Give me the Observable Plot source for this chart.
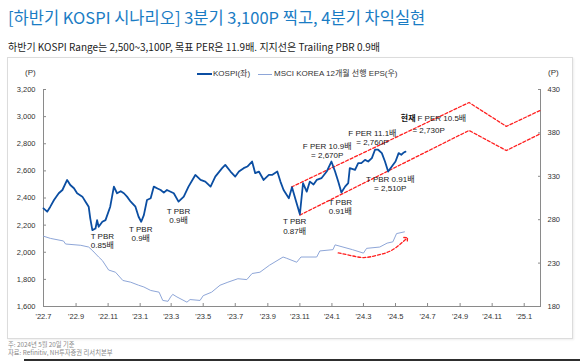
<!DOCTYPE html>
<html><head><meta charset="utf-8">
<script src="https://cdn.jsdelivr.net/npm/d3@7"></script>
<script src="https://cdn.jsdelivr.net/npm/@observablehq/plot@0.6"></script>
<style>
html,body{margin:0;padding:0;}
body{width:580px;height:361px;position:relative;overflow:hidden;background:#fff;font-family:'Noto Sans CJK KR','Noto Sans',sans-serif;}
.abs{position:absolute;white-space:nowrap;line-height:1;}
#title{left:8px;top:8.5px;font-size:16.5px;color:#1a7cc4;}
#sub{left:8px;top:42px;font-size:10px;color:#222;}
#frame{left:7px;top:57px;width:566px;height:282px;border:1px solid #dcdcdc;box-sizing:border-box;box-shadow:1px 1px 2px #eee;}
.nf{font-family:'Liberation Sans Narrow','Liberation Sans',Arial,'Noto Sans CJK KR',sans-serif;font-size:8px;color:#333;}
#chart{position:absolute;left:0;top:60px;}
.fn{font-size:6.3px;color:#888;left:8px;}
</style></head>
<body>
<div id="title" class="abs">[하반기 KOSPI 시나리오] 3분기 3,100P 찍고, 4분기 차익실현</div>
<div id="sub" class="abs">하반기 KOSPI Range는 2,500~3,100P, 목표 PER은 11.9배. 지지선은 Trailing PBR 0.9배</div>
<div id="frame" class="abs"></div>
<div class="abs nf" style="left:25px;top:69px;">(P)</div>
<div class="abs nf" style="left:548px;top:69px;">(P)</div>
<div class="abs" style="left:197px;top:73px;width:15px;height:0;border-top:2.5px solid #0b4ea2;"></div>
<div class="abs nf" style="left:213px;top:70px;">KOSPI(좌)</div>
<div class="abs" style="left:258px;top:74px;width:14px;height:0;border-top:1px solid #8ea6d8;"></div>
<div class="abs nf" style="left:274px;top:70px;">MSCI KOREA 12개월 선행 EPS(우)</div>
<div id="chart"></div>
<div class="abs fn" style="top:342px;">주: 2024년 5월 20일 기준</div>
<div class="abs fn" style="top:350px;">자료: Refinitiv, NH투자증권 리서치본부</div>
<div class="abs" style="left:24px;top:358.5px;right:0;height:3px;background:#2e2e2e;"></div>
<script>
const NF = "'Liberation Sans Narrow','Liberation Sans',Arial,'Noto Sans CJK KR',sans-serif";

// KOSPI (left axis, P)
const kospiDates = ["2022-07-01","2022-07-08","2022-07-14","2022-07-21","2022-07-30","2022-08-06","2022-08-15","2022-08-21","2022-08-28","2022-09-03","2022-09-13","2022-09-19","2022-09-25","2022-09-28","2022-10-02","2022-10-08","2022-10-11","2022-10-14","2022-10-21","2022-10-27","2022-11-05","2022-11-12","2022-11-18","2022-11-25","2022-12-01","2022-12-07","2022-12-14","2022-12-23","2022-12-29","2023-01-03","2023-01-08","2023-01-14","2023-01-21","2023-01-27","2023-02-03","2023-02-09","2023-02-15","2023-02-21","2023-03-06","2023-03-15","2023-03-25","2023-04-03","2023-04-16","2023-04-26","2023-05-05","2023-05-15","2023-05-24","2023-06-06","2023-06-12","2023-06-22","2023-07-01","2023-07-08","2023-07-17","2023-07-24","2023-08-02","2023-08-08","2023-08-15","2023-08-24","2023-09-03","2023-09-09","2023-09-19","2023-09-25","2023-10-01","2023-10-11","2023-10-17","2023-10-24","2023-11-01","2023-11-07","2023-11-14","2023-11-20","2023-11-27","2023-12-03","2023-12-12","2023-12-22","2023-12-31","2024-01-07","2024-01-13","2024-01-19","2024-01-26","2024-02-01","2024-02-04","2024-02-14","2024-02-20","2024-02-26","2024-03-04","2024-03-10","2024-03-17","2024-03-23","2024-03-29","2024-04-05","2024-04-11","2024-04-17","2024-04-24","2024-05-01","2024-05-07","2024-05-12","2024-05-17","2024-05-20"];
const kospiValues = [2323,2299,2336,2385,2435,2459,2533,2496,2472,2435,2410,2373,2336,2250,2163,2175,2237,2188,2225,2237,2336,2484,2435,2450,2435,2410,2373,2336,2262,2225,2274,2385,2398,2484,2470,2459,2440,2459,2435,2373,2410,2484,2570,2533,2521,2484,2558,2620,2644,2595,2558,2595,2620,2632,2669,2583,2595,2533,2570,2570,2595,2521,2459,2398,2479,2385,2280,2509,2447,2521,2500,2533,2546,2595,2669,2595,2521,2440,2484,2509,2620,2607,2657,2657,2681,2669,2694,2756,2756,2731,2669,2595,2632,2669,2731,2719,2736,2742];

// MSCI KOREA 12M forward EPS (right axis)
const epsDates = ["2022-07-01","2022-07-14","2022-08-08","2022-08-12","2022-09-10","2022-09-25","2022-10-03","2022-10-14","2022-10-21","2022-11-02","2022-11-15","2022-11-29","2022-12-14","2022-12-29","2023-01-08","2023-01-21","2023-02-06","2023-02-13","2023-02-23","2023-02-28","2023-03-04","2023-03-12","2023-03-31","2023-04-06","2023-04-25","2023-05-01","2023-05-17","2023-06-02","2023-06-17","2023-07-06","2023-07-23","2023-08-02","2023-08-17","2023-09-04","2023-09-30","2023-10-07","2023-10-26","2023-11-03","2023-12-03","2023-12-09","2024-01-03","2024-01-07","2024-01-22","2024-02-09","2024-03-01","2024-03-07","2024-04-01","2024-04-15","2024-04-26","2024-05-03","2024-05-18"];
const epsValues = [261,258.5,255.5,252,250.5,248.5,244,237,233,222,219.5,210,208,204.5,202.5,198.5,196.5,187,186,191,194,191,185,188,187,192.5,196.5,204.5,208,212,211,218,219.5,227.5,237,235.5,231,237,237,244,245.5,251,248.5,245.5,241.5,247,248.5,253,254.5,264,266];

// scenario channel (left axis, P)
const upperDates = ["2023-10-16","2024-09-18","2024-11-28","2025-02-01"];
const upperValues = [2481,3104,2928,3047];
const lowerDates = ["2023-11-01","2024-09-18","2024-11-28","2025-02-01"];
const lowerValues = [2274,2898,2750,2874];

// EPS trend arrow (right axis)
const arrowDates = ["2024-01-13","2024-02-04","2024-03-01","2024-03-27","2024-04-24","2024-05-22"];
const arrowValues = [241.7,239,236.4,239,244.8,258.3];

// annotations (left axis, P)
const annDates = ["2022-10-21","2023-01-02","2023-03-15","2023-10-22","2024-01-17","2024-04-21","2023-12-23","2024-03-18","2024-07-03"];
const annValues = [2087,2136,2268,2193,2339,2506,2749,2844,2904];
const annLabels = ["T PBR\n0.85배","T PBR\n0.9배","T PBR\n0.9배","T PBR\n0.87배","T PBR\n0.91배","T PBR 0.91배\n= 2,510P","F PER 10.9배\n= 2,670P","F PER 11.1배\n= 2,760P","= 2,730P"];
const nowDate = "2024-06-10", nowValue = 2983;
const nowLabelBold = "현재", nowLabel = "F PER 10.5배";

// axes
const leftTicks = [1600,1800,2000,2200,2400,2600,2800,3000,3200];
const rightTicks = [180,230,280,330,380,430];
const xTickDates = ["2022-07-01","2022-09-01","2022-11-01","2023-01-01","2023-03-01","2023-05-01","2023-07-01","2023-09-01","2023-11-01","2024-01-01","2024-03-01","2024-05-01","2024-07-01","2024-09-01","2024-11-01","2025-01-01"];
const xTickLabels = ["'22.7","'22.9","'22.11","'23.1","'23.3","'23.5","'23.7","'23.9","'23.11","'24.1","'24.3","'24.5","'24.7","'24.9","'24.11","'25.1"];

const D = s => new Date(s);
const x0 = D("2022-07-01"), x1 = D("2025-02-01");
const toLeft = e => 1600 + (e - 180) * 6.4;
const fromLeft = v => Math.round(180 + (v - 1600) / 6.4);
const xLab = new Map(xTickDates.map((d, i) => [+D(d), xTickLabels[i]]));

const kospi = kospiDates.map((d, i) => ({date: D(d), v: kospiValues[i]}));
const eps = epsDates.map((d, i) => ({date: D(d), v: toLeft(epsValues[i])}));
const upper = upperDates.map((d, i) => ({date: D(d), v: upperValues[i]}));
const lower = lowerDates.map((d, i) => ({date: D(d), v: lowerValues[i]}));
const arrow = arrowDates.map((d, i) => ({date: D(d), v: toLeft(arrowValues[i])}));
const ann = annDates.map((d, i) => ({date: D(d), v: annValues[i], t: annLabels[i]}));

const red = "#ff1f1f";
const axisCol = "#8a8a8a";

const chart = Plot.plot({
  width: 580, height: 270,
  marginLeft: 43, marginRight: 40, marginTop: 29, marginBottom: 24,
  style: {fontFamily: NF, fontSize: "7.5px", color: "#333", background: "transparent", overflow: "visible"},
  x: {type: "utc", domain: [x0, x1]},
  y: {domain: [1600, 3200]},
  marks: [
    Plot.ruleX([x0], {stroke: axisCol}),
    Plot.ruleX([x1], {stroke: axisCol}),
    Plot.ruleY([1600], {stroke: axisCol}),
    Plot.axisY(leftTicks, {anchor: "left", tickSize: -3, tickPadding: 11, stroke: axisCol, fill: "#333", tickFormat: d3.format(","), label: null}),
    Plot.axisY(rightTicks.map(toLeft), {anchor: "right", tickSize: -3, tickPadding: 10, stroke: axisCol, fill: "#333", tickFormat: fromLeft, label: null}),
    Plot.axisX(xTickDates.map(D), {anchor: "bottom", tickSize: -3, tickPadding: 10.5, stroke: axisCol, fill: "#333", tickFormat: d => xLab.get(+d), label: null}),
    Plot.line(eps, {x: "date", y: "v", stroke: "#8ea6d8", strokeWidth: 1}),
    Plot.line(upper, {x: "date", y: "v", stroke: red, strokeWidth: 1.3, strokeDasharray: "3,2"}),
    Plot.line(lower, {x: "date", y: "v", stroke: red, strokeWidth: 1.3, strokeDasharray: "3,2"}),
    Plot.line(arrow, {x: "date", y: "v", stroke: red, strokeWidth: 1.3, strokeDasharray: "3,2", curve: "natural", markerEnd: "arrow"}),
    Plot.line(kospi, {x: "date", y: "v", stroke: "#0b4ea2", strokeWidth: 1.8}),
    Plot.text(ann, {x: "date", y: "v", text: "t", fontSize: 8, fill: "#1a1a1a", lineHeight: 1.15, fontFamily: NF}),
    Plot.text([nowLabelBold], {x: () => D(nowDate), y: () => nowValue, text: d => d, textAnchor: "end", dx: -1, fontSize: 8, fontWeight: "bold", fill: "#111", fontFamily: NF}),
    Plot.text([nowLabel], {x: () => D(nowDate), y: () => nowValue, text: d => d, textAnchor: "start", dx: 1, fontSize: 8, fill: "#1a1a1a", fontFamily: NF})
  ]
});
document.getElementById("chart").appendChild(chart);
</script>
</body></html>
